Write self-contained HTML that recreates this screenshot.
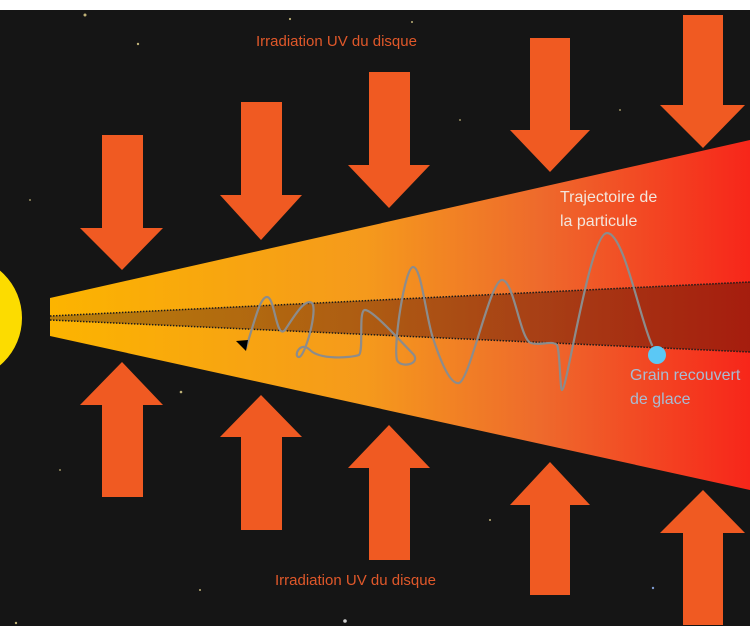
<!DOCTYPE html>
<html><head><style>
html,body{margin:0;padding:0;background:#fff;}
svg{display:block;}
</style></head><body>
<svg width="750" height="630" viewBox="0 0 750 630" xmlns="http://www.w3.org/2000/svg">
<defs>
<linearGradient id="cone" x1="50" y1="0" x2="750" y2="0" gradientUnits="userSpaceOnUse">
<stop offset="0" stop-color="#fcb400"/>
<stop offset="0.45" stop-color="#f59a1c"/>
<stop offset="0.7" stop-color="#ee6a2c"/>
<stop offset="1" stop-color="#f7261a"/>
</linearGradient>
<linearGradient id="band" x1="50" y1="0" x2="750" y2="0" gradientUnits="userSpaceOnUse">
<stop offset="0" stop-color="#8a5a10" stop-opacity="0.6"/>
<stop offset="1" stop-color="#8a1a0a" stop-opacity="0.75"/>
</linearGradient>
</defs>
<rect x="0" y="10" width="750" height="616" fill="#151515"/>
<g fill="#e8d890" opacity="0.8">
<circle cx="85" cy="15" r="1.5"/><circle cx="138" cy="44" r="1.2"/><circle cx="290" cy="19" r="1.1"/><circle cx="412" cy="22" r="1"/><circle cx="345" cy="621" r="1.8" fill="#fff"/><circle cx="653" cy="588" r="1.2" fill="#9bf"/><circle cx="16" cy="623" r="1.2"/><circle cx="181" cy="392" r="1.3"/><circle cx="30" cy="200" r="0.9"/><circle cx="60" cy="470" r="0.9"/><circle cx="200" cy="590" r="1"/><circle cx="460" cy="120" r="0.9"/><circle cx="620" cy="110" r="0.9"/><circle cx="490" cy="520" r="1"/><circle cx="330" cy="255" r="0.9"/>
</g>
<circle cx="-40" cy="318" r="62" fill="#fcdc00"/>
<polygon points="50,298 750,140 750,490 50,336" fill="url(#cone)"/>
<polygon points="50,316 750,282 750,352 50,320" fill="url(#band)"/>
<polyline points="50,316 750,282" fill="none" stroke="#1a1a1a" stroke-width="1.5" stroke-dasharray="1.5 1.5"/>
<polyline points="50,320 750,352" fill="none" stroke="#1a1a1a" stroke-width="1.5" stroke-dasharray="1.5 1.5"/>
<g fill="#f05a22">
<polygon points="102,135 143,135 143,228 163,228 122,270 80,228 102,228"/>
<polygon points="241,102 282,102 282,195 302,195 261,240 220,195 241,195"/>
<polygon points="369,72 410,72 410,165 430,165 389,208 348,165 369,165"/>
<polygon points="530,38 570,38 570,130 590,130 550,172 510,130 530,130"/>
<polygon points="683,15 723,15 723,105 745,105 703,148 660,105 683,105"/>
<polygon points="122,362 163,405 143,405 143,497 102,497 102,405 80,405"/>
<polygon points="261,395 302,437 282,437 282,530 241,530 241,437 220,437"/>
<polygon points="389,425 430,468 410,468 410,560 369,560 369,468 348,468"/>
<polygon points="550,462 590,505 570,505 570,595 530,595 530,505 510,505"/>
<polygon points="703,490 745,533 723,533 723,625 683,625 683,533 660,533"/>
</g>
<path d="M246,348 C255,320 260,297 267,297 C275,297 276,340 285,330 C295,315 305,298 312,303 C318,310 305,357 299,357 C293,357 300,340 310,350 C320,360 350,358 359,355 C364,350 358,310 365,310 C372,310 395,335 414,355 C420,365 400,368 397,360 C393,345 405,267 413,267 C421,267 425,310 432,335 C440,360 450,385 459,383 C470,380 490,280 502,280 C514,280 520,340 531,343 C540,346 552,340 557,345 C560,350 560,390 562,390 C567,390 590,233 607,233 C624,233 640,320 652,345" fill="none" stroke="#8c8c8c" stroke-width="2.2" stroke-linecap="round"/>
<path d="M236,341 L248,340 L246,351 z" fill="#000"/>
<circle cx="657" cy="355" r="9" fill="#5bc8f5"/>
<g font-family="Liberation Sans, sans-serif">
<text x="256" y="46" font-size="15" fill="#e0582a">Irradiation UV du disque</text>
<text x="275" y="585" font-size="15" fill="#e0582a">Irradiation UV du disque</text>
<text x="560" y="202" font-size="16" fill="#f3e6dc">Trajectoire de</text>
<text x="560" y="226" font-size="16" fill="#f3e6dc">la particule</text>
<text x="630" y="380" font-size="16" fill="#a8bcd4">Grain recouvert</text>
<text x="630" y="404" font-size="16" fill="#a8bcd4">de glace</text>
</g>
</svg>
</body></html>
